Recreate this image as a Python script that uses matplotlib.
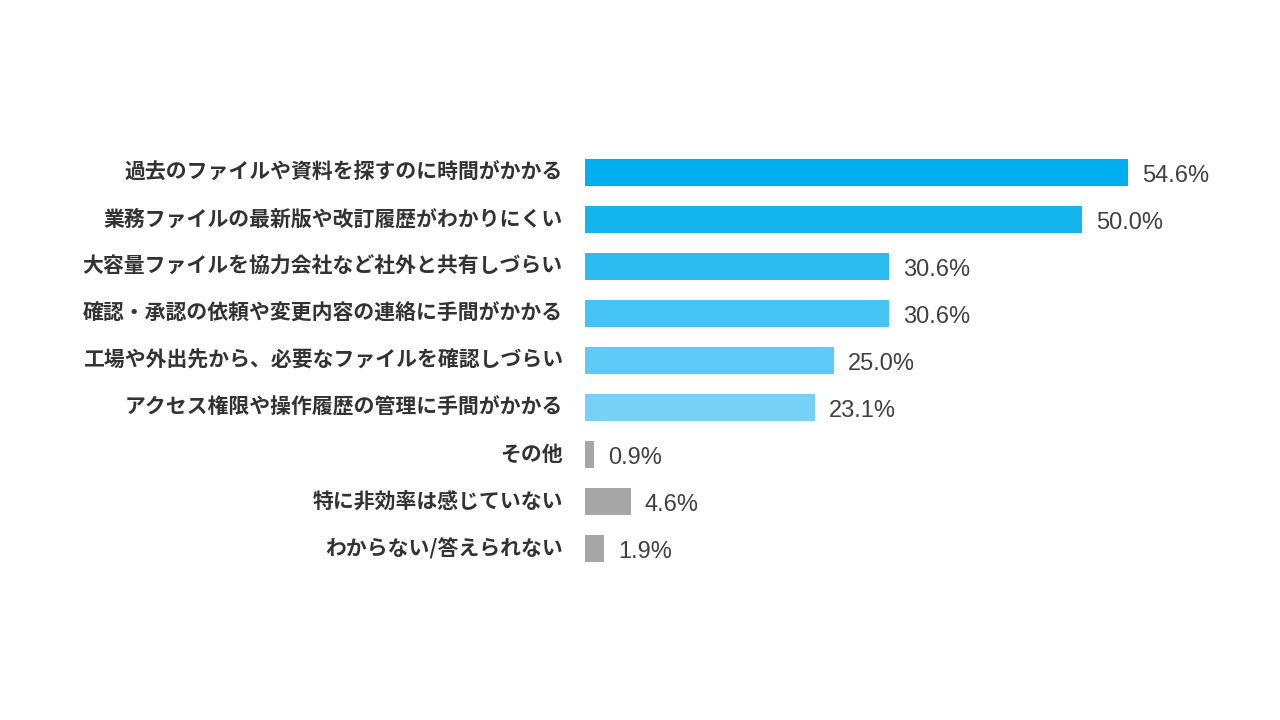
import matplotlib.pyplot as plt
import numpy as np

plt.rcParams["font.family"] = ["Noto Sans CJK JP", "DejaVu Sans"]

# Survey answers (%), top to bottom
categories = [
    "過去のファイルや資料を探すのに時間がかかる",
    "業務ファイルの最新版や改訂履歴がわかりにくい",
    "大容量ファイルを協力会社など社外と共有しづらい",
    "確認・承認の依頼や変更内容の連絡に手間がかかる",
    "工場や外出先から、必要なファイルを確認しづらい",
    "アクセス権限や操作履歴の管理に手間がかかる",
    "その他",
    "特に非効率は感じていない",
    "わからない/答えられない",
]
values = [54.6, 50.0, 30.6, 30.6, 25.0, 23.1, 0.9, 4.6, 1.9]
colors = ["#00AEEF", "#14B4EE", "#2DBCF0", "#45C4F3", "#5DCBF5", "#75D2F6",
          "#A6A6A6", "#A6A6A6", "#A6A6A6"]

fig = plt.figure(figsize=(12.8, 7.2), dpi=100)
ax = fig.add_axes([585 / 1280, 0.2054, 655 / 1280, 0.5877])

y = np.arange(len(categories))
ax.barh(y, values, height=0.59, color=colors)

ax.set_xlim(0, 65.86)
ax.set_ylim(len(categories) - 0.5, -0.5)

# value labels to the right of each bar
for yi, v in zip(y, values):
    ax.annotate(f"{v:.1f}%", xy=(v, yi), xytext=(10, -2.5), textcoords="offset points",
                va="center", ha="left", fontsize=17, color="#404040",
                family=["Liberation Sans", "DejaVu Sans"])

ax.set_yticks(y)
ax.set_yticklabels(categories, fontsize=15, fontweight="bold", color="#333333",
                   va="center")
ax.tick_params(axis="y", length=0, pad=16)
ax.set_xticks([])
for s in ax.spines.values():
    s.set_visible(False)

fig.savefig("out.png", dpi=100)
